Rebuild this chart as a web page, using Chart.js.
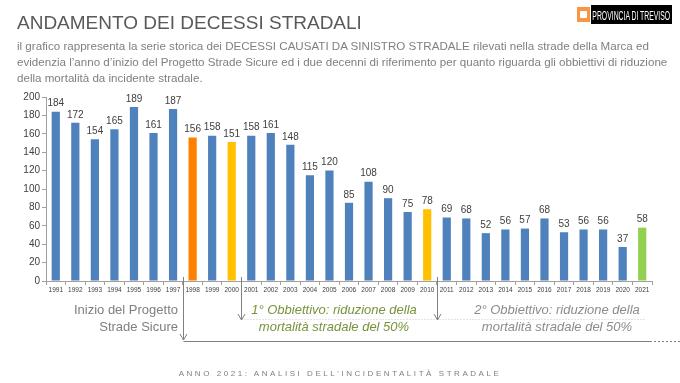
<!DOCTYPE html>
<html>
<head>
<meta charset="utf-8">
<script src="https://cdn.jsdelivr.net/npm/chart.js@4"></script>
<style>
  html, body { margin:0; padding:0; background:#fff; }
  body { width:680px; height:383px; position:relative; overflow:hidden; font-family:"Liberation Sans", Arial, sans-serif; }
  #c { position:absolute; left:0; top:0; }
  .t { position:absolute; white-space:nowrap; }
  #title { left:17px; top:12px; font-size:19px; color:#595959; line-height:22px; }
  #sub { left:17px; top:38px; font-size:11.6px; color:#7f7f7f; line-height:15.8px; }
  #logo { position:absolute; left:591px; top:5px; width:81px; height:19px; background:#000; color:#fff; line-height:19px; text-align:center; white-space:nowrap; overflow:hidden; }
  #logo span { display:inline-block; font-size:12px; transform:scaleX(0.57); transform-origin:center; margin-left:-40px; margin-right:-40px; }
  #icon { position:absolute; left:577px; top:7px; width:13px; height:15px; background:#f79646; }
  #icon:after { content:""; position:absolute; left:3px; top:4px; width:7px; height:7px; background:#fff; border-radius:1px; }
  .ann { font-size:13px; line-height:17px; }
  #a1 { right:502px; top:301px; text-align:right; color:#7f7f7f; }
  #a2 { left:246px; width:176px; top:301px; text-align:center; color:#77933c; font-style:italic; }
  #a3 { left:469px; width:176px; top:301px; text-align:center; color:#8c8c8c; font-style:italic; }
  #foot { left:0; width:680px; top:369px; text-align:center; font-size:8px; letter-spacing:2.55px; color:#808080; }
</style>
</head>
<body>
<canvas id="c" width="680" height="383"></canvas>
<div class="t" id="title">ANDAMENTO DEI DECESSI STRADALI</div>
<div class="t" id="sub">il grafico rappresenta la serie storica dei DECESSI CAUSATI DA SINISTRO STRADALE rilevati nella strade della Marca ed<br>evidenzia l’anno d’inizio del Progetto Strade Sicure ed i due decenni di riferimento per quanto riguarda gli obbiettivi di riduzione<br>della mortalità da incidente stradale.</div>
<div id="icon"></div>
<div id="logo"><span>PROVINCIA DI TREVISO</span></div>
<div class="t ann" id="a1">Inizio del Progetto<br>Strade Sicure</div>
<div class="t ann" id="a2">1° Obbiettivo: riduzione della<br>mortalità stradale del 50%</div>
<div class="t ann" id="a3">2° Obbiettivo: riduzione della<br>mortalità stradale del 50%</div>
<div class="t" id="foot">ANNO 2021: ANALISI DELL'INCIDENTALITÀ STRADALE</div>
<script>
const years = ['1991','1992','1993','1994','1995','1996','1997','1998','1999','2000','2001','2002','2003','2004','2005','2006','2007','2008','2009','2010','2011','2012','2013','2014','2015','2016','2017','2018','2019','2020','2021'];
const deaths = [184,172,154,165,189,161,187,156,158,151,158,161,148,115,120,85,108,90,75,78,69,68,52,56,57,68,53,56,56,37,58];
const highlightYears = { '1998':'#ff7f00', '2000':'#ffc000', '2010':'#ffc000', '2021':'#92d050' };
const baseColor = '#4f81bd';
const yTicks = [0,20,40,60,80,100,120,140,160,180,200];
// separators placed between these category pairs
const separators = [ ['1997','1998'], ['2000','2001'], ['2010','2011'] ];

const colors = years.map(y => highlightYears[y] || baseColor);

const overlay = {
  id:'overlay',
  afterDraw(chart){
    const ctx = chart.ctx, xs = chart.scales.x, ys = chart.scales.y;
    const meta = chart.getDatasetMeta(0);
    ctx.save();
    ctx.font = '10px "Liberation Sans", Arial, sans-serif';
    ctx.fillStyle = '#404040';
    ctx.textAlign = 'center';
    ctx.textBaseline = 'bottom';
    meta.data.forEach((bar,i)=>{ ctx.fillText(String(deaths[i]), bar.x, bar.y - 3); });
    const bottom = ys.getPixelForValue(0);
    const between = (a,b) => (xs.getPixelForValue(years.indexOf(a)) + xs.getPixelForValue(years.indexOf(b)))/2;
    const sx = separators.map(p => Math.round(between(p[0],p[1])) + 0.5);
    ctx.strokeStyle = '#808080';
    ctx.lineWidth = 1;
    const arrowDown = (x, y1, y2) => {
      ctx.beginPath(); ctx.moveTo(x, y1); ctx.lineTo(x, y2); ctx.stroke();
      ctx.beginPath(); ctx.moveTo(x-3.5, y2-6); ctx.lineTo(x, y2); ctx.lineTo(x+3.5, y2-6); ctx.stroke();
    };
    ctx.save();
    ctx.strokeStyle = '#c8c8c8';
    ctx.setLineDash([1,2]);
    ctx.beginPath(); ctx.moveTo(sx[1], 319.5); ctx.lineTo(645, 319.5); ctx.stroke();
    ctx.restore();
    arrowDown(sx[0], bottom - 4, 340);
    arrowDown(sx[1], bottom - 4, 320);
    arrowDown(sx[2], bottom - 4, 320);
    ctx.beginPath(); ctx.moveTo(sx[0], 341.5); ctx.lineTo(650, 341.5); ctx.stroke();
    ctx.save();
    ctx.setLineDash([2,2]);
    ctx.beginPath(); ctx.moveTo(650, 341.5); ctx.lineTo(680, 341.5); ctx.stroke();
    ctx.restore();
    ctx.restore();
  }
};

new Chart(document.getElementById('c'), {
  type:'bar',
  data:{ labels:years, datasets:[{ data:deaths, backgroundColor:colors, borderWidth:0, categoryPercentage:1, barPercentage:0.42 }] },
  options:{
    responsive:false, animation:false,
    layout:{ padding:{ left:0, top:97, right:28, bottom:0 } },
    plugins:{ legend:{display:false}, tooltip:{enabled:false} },
    scales:{
      x:{
        grid:{ drawOnChartArea:false, tickLength:4, color:'#a0a0a0', offset:true },
        border:{ color:'#a0a0a0' },
        ticks:{ font:{ size:6.5, family:'"Liberation Sans", Arial, sans-serif' }, color:'#404040', padding:1, maxRotation:0, autoSkip:false },
        afterFit(s){ s.height = 102; }
      },
      y:{
        min:0, max:200,
        afterBuildTicks(s){ s.ticks = yTicks.map(v=>({value:v})); },
        grid:{ drawOnChartArea:false, tickLength:4, color:'#a0a0a0' },
        border:{ color:'#a0a0a0' },
        ticks:{ font:{ size:10, family:'"Liberation Sans", Arial, sans-serif' }, color:'#404040', padding:2 },
        afterFit(s){ s.width = 46; }
      }
    }
  },
  plugins:[overlay]
});
</script>
</body>
</html>
